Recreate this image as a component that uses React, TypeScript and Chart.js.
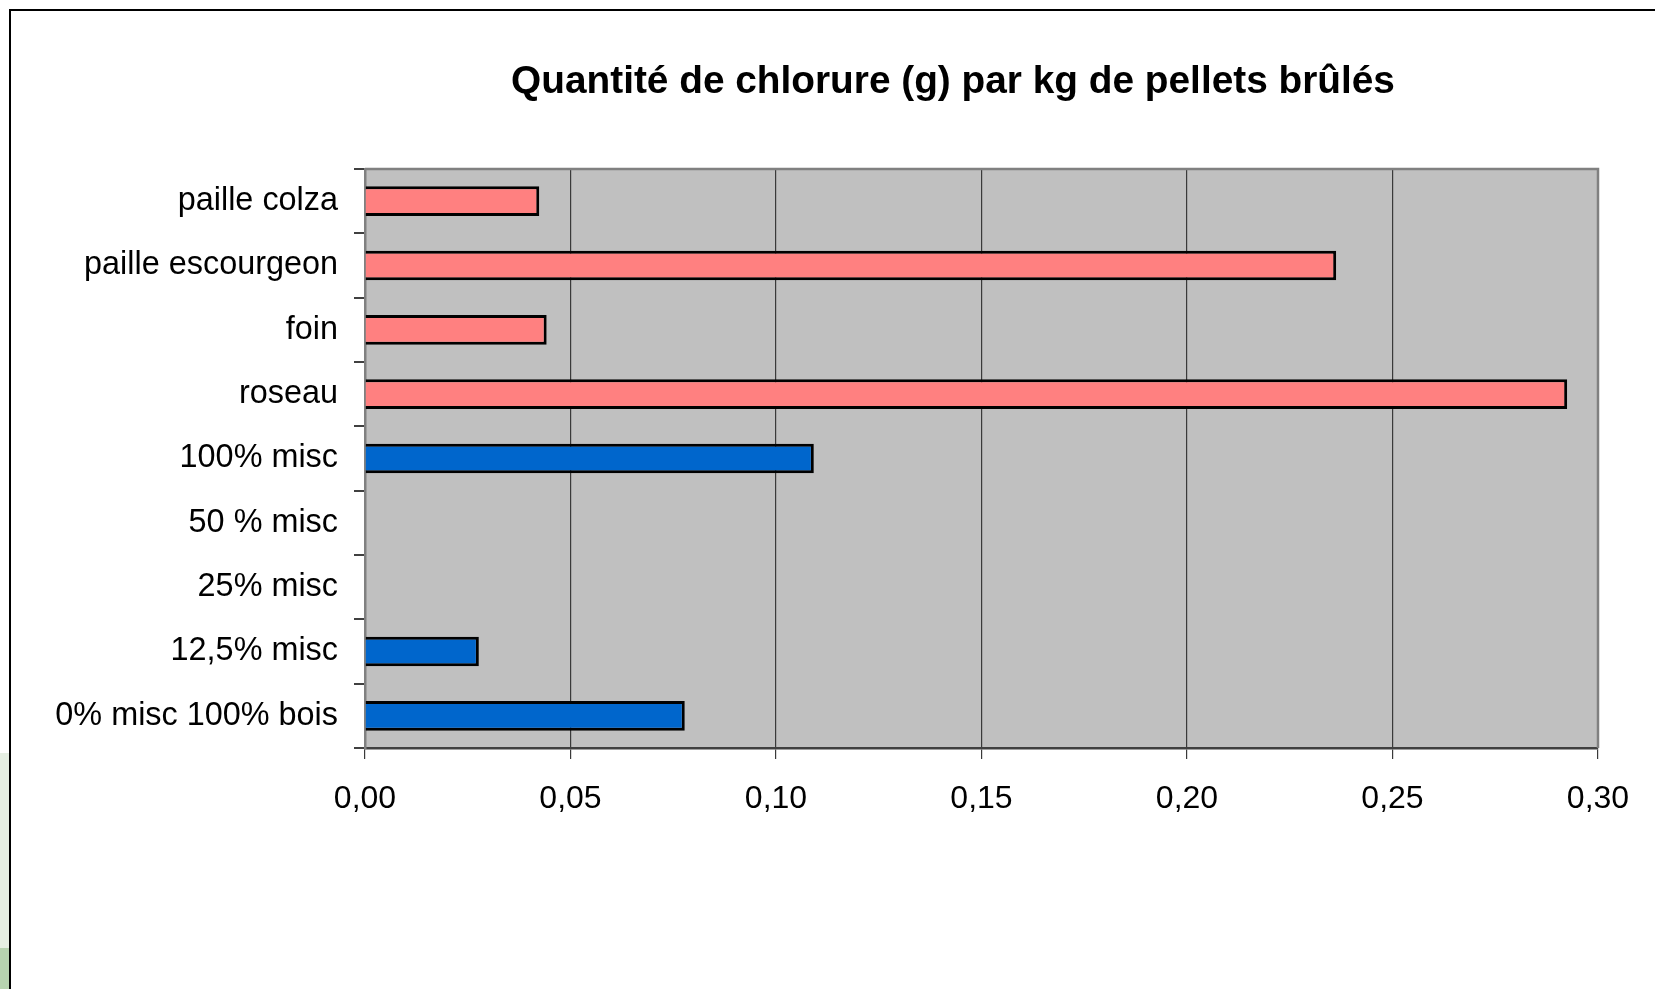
import React, { useEffect, useRef } from "react";
import { Chart, registerables } from "chart.js";

Chart.register(...registerables);

const categories: string[] = [
  "paille colza",
  "paille escourgeon",
  "foin",
  "roseau",
  "100% misc",
  "50 % misc",
  "25% misc",
  "12,5% misc",
  "0% misc 100% bois",
];

const chlorideValues: (number | null)[] = [
  0.0424, 0.2363, 0.0442, 0.2925, 0.1092, null, null, 0.0277, 0.0778,
];

const barColors: string[] = [
  "#FF8080", "#FF8080", "#FF8080", "#FF8080",
  "#0066CC", "#0066CC", "#0066CC", "#0066CC", "#0066CC",
];

const xTicks: number[] = [0, 0.05, 0.1, 0.15, 0.2, 0.25, 0.3];

const chartTitle = "Quantité de chlorure (g) par kg de pellets brûlés";

const FONT = "'Liberation Sans', Arial, sans-serif";

const plotDecor = {
  id: "plotDecor",
  beforeDraw(chart: any) {
    const { ctx, chartArea } = chart;
    ctx.save();
    ctx.fillStyle = "#C0C0C0";
    ctx.fillRect(chartArea.left, chartArea.top, chartArea.right - chartArea.left, chartArea.bottom - chartArea.top);
    ctx.restore();
  },
  beforeDatasetsDraw(chart: any) {
    const { ctx, chartArea } = chart;
    ctx.save();
    ctx.strokeStyle = "#808080";
    ctx.lineWidth = 2.5;
    ctx.beginPath();
    ctx.moveTo(chartArea.left, chartArea.top);
    ctx.lineTo(chartArea.right, chartArea.top);
    ctx.lineTo(chartArea.right, chartArea.bottom);
    ctx.stroke();
    ctx.restore();
  },
  afterDraw(chart: any) {
    const { ctx } = chart;
    ctx.save();
    ctx.fillStyle = "#000";
    ctx.font = `bold 38.8px ${FONT}`;
    ctx.textAlign = "center";
    ctx.textBaseline = "middle";
    ctx.fillText(chartTitle, 953, 82);
    ctx.restore();
  },
};

export default function App() {
  const ref = useRef<HTMLCanvasElement | null>(null);

  useEffect(() => {
    if (!ref.current) return;
    const chart = new Chart(ref.current, {
      type: "bar",
      data: {
        labels: categories,
        datasets: [
          {
            data: chlorideValues,
            backgroundColor: barColors,
            borderColor: "#000000",
            borderWidth: 3,
            categoryPercentage: 1,
            barPercentage: 0.46,
          },
        ],
      },
      options: {
        indexAxis: "y",
        animation: false,
        responsive: true,
        maintainAspectRatio: false,
        layout: { padding: { top: 169, right: 57, bottom: 0, left: 0 } },
        plugins: {
          legend: { display: false },
          title: { display: false },
          tooltip: { enabled: false },
        },
        scales: {
          x: {
            type: "linear",
            min: 0,
            max: 0.3,
            afterBuildTicks: (scale: any) => {
              scale.ticks = xTicks.map((v) => ({ value: v }));
            },
            afterFit: (scale: any) => {
              scale.height = 241;
            },
            grid: {
              color: "#3A3A3A",
              lineWidth: 1.2,
              drawTicks: true,
              tickLength: 11,
              tickColor: "#3A3A3A",
            },
            border: { display: true, color: "#404040", width: 2.5 },
            ticks: {
              color: "#000",
              font: { family: FONT, size: 32 },
              padding: 21,
              maxRotation: 0,
              callback: (v: any) => Number(v).toFixed(2).replace(".", ","),
            },
          },
          y: {
            type: "category",
            offset: true,
            afterFit: (scale: any) => {
              scale.width = 365;
            },
            grid: {
              offset: true,
              drawOnChartArea: false,
              drawTicks: true,
              tickLength: 11,
              tickColor: "#404040",
              lineWidth: 2,
            },
            border: { display: true, color: "#808080", width: 2.5 },
            ticks: {
              color: "#000",
              font: { family: FONT, size: 32.4 },
              padding: 16,
              labelOffset: 0,
              autoSkip: false,
            },
          },
        },
      },
      plugins: [plotDecor],
    });
    return () => chart.destroy();
  }, []);

  return (
    <div style={{ position: "absolute", left: 0, top: 0, width: 1655, height: 989, background: "#fff", overflow: "hidden" }}>
      <div style={{ position: "absolute", left: 0, top: 753, width: 9, height: 195, background: "#E6EFE3" }} />
      <div style={{ position: "absolute", left: 0, top: 948, width: 9, height: 41, background: "#B7D3B0" }} />
      <div style={{ position: "absolute", left: 9, top: 9, width: 1700, height: 1000, borderLeft: "2.5px solid #000", borderTop: "2.5px solid #000" }} />
      <div style={{ position: "absolute", left: 0, top: 0, width: 1655, height: 989 }}>
        <canvas ref={ref} />
      </div>
    </div>
  );
}
